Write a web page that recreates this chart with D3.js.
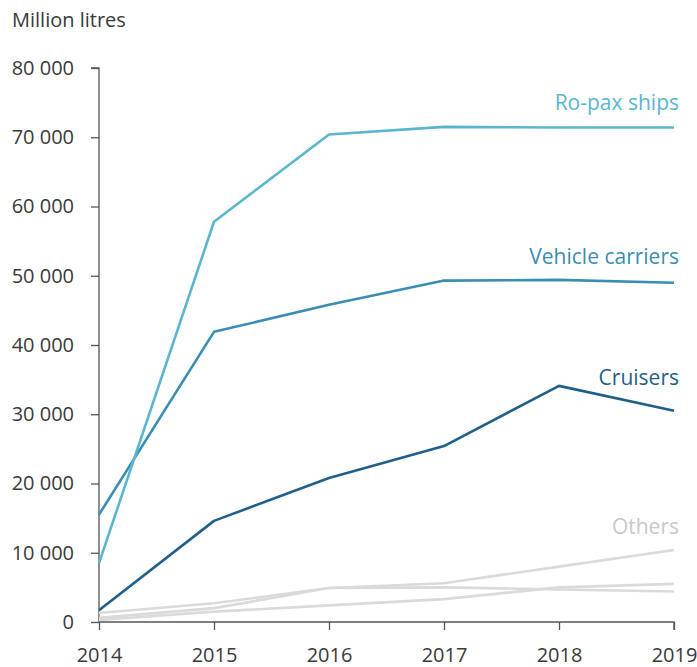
<!DOCTYPE html>
<html>
<head>
<meta charset="utf-8">
<script src="https://cdn.jsdelivr.net/npm/d3@7"></script>
<style>
  html, body { margin: 0; padding: 0; background: #fff; }
  svg { display: block; font-family: "Open Sans", sans-serif; }
</style>
</head>
<body>
<svg id="chart" width="697" height="667"></svg>
<script>
// Fuel consumption by ship type, million litres
const years = [2014, 2015, 2016, 2017, 2018, 2019];
const roPax = [8500, 57800, 70400, 71500, 71400, 71400];
const vehicleCarriers = [15500, 41900, 45800, 49300, 49400, 49000];
const cruisers = [1700, 14600, 20800, 25400, 34100, 30500];
const othersA = [1300, 2700, 4900, 5600, 8000, 10400];
const othersB = [600, 2000, 4900, 5000, 4700, 4400];
const othersC = [300, 1500, 2400, 3300, 5000, 5500];
const yTicks = [0, 10000, 20000, 30000, 40000, 50000, 60000, 70000, 80000];

const series = [
  { name: "Others", values: othersA, color: "#dadada", label: true },
  { name: "Others", values: othersB, color: "#dadada", label: false },
  { name: "Others", values: othersC, color: "#dadada", label: false },
  { name: "Cruisers", values: cruisers, color: "#1f5f8a", label: true },
  { name: "Vehicle carriers", values: vehicleCarriers, color: "#3a8db4", label: true },
  { name: "Ro-pax ships", values: roPax, color: "#5ab6d0", label: true }
];
const labelColors = { "Others": "#c9c9c9", "Cruisers": "#1f5f8a", "Vehicle carriers": "#3a8db4", "Ro-pax ships": "#5ab6d0" };
// baseline offset of each label above its line's last point
const labelYOffset = { "Others": -16, "Cruisers": -26, "Vehicle carriers": -19, "Ro-pax ships": -18 };

const svg = d3.select("#chart");
const margin = { top: 68, right: 23, bottom: 45, left: 99 };
const W = 697, H = 667;

const x = d3.scalePoint().domain(years).range([margin.left, W - margin.right]);
const y = d3.scaleLinear().domain([0, 80000]).range([H - margin.bottom, margin.top]);

const fmtThousands = v => d3.format(",")(v).replace(/,/g, " ");

// Y axis
const yAxis = svg.append("g")
  .attr("transform", `translate(${margin.left},0)`)
  .call(d3.axisLeft(y).tickValues(yTicks).tickSize(8).tickPadding(17).tickFormat(fmtThousands));
yAxis.select(".domain").attr("stroke", "#555").attr("stroke-width", 1.3).attr("d", `M-8,${y(80000)}H0V${y(0)}`);
yAxis.selectAll(".tick line").attr("stroke", "#555").attr("stroke-width", 1.3);
yAxis.selectAll(".tick text").attr("fill", "#3a3a3a").style("font-size", "20px").style("font-family", "'Open Sans', sans-serif");

// X axis
const xAxis = svg.append("g")
  .attr("transform", `translate(0,${y(0)})`)
  .call(d3.axisBottom(x).tickSize(8).tickPadding(18).tickFormat(d3.format("d")));
xAxis.select(".domain").attr("stroke", "#555").attr("stroke-width", 1.3).attr("d", `M${margin.left},0H${W - margin.right}V8`);
xAxis.selectAll(".tick line").attr("stroke", "#555").attr("stroke-width", 1.3);
xAxis.selectAll(".tick text").attr("fill", "#3a3a3a").style("font-size", "20px").style("font-family", "'Open Sans', sans-serif");

// Unit title
svg.append("text")
  .attr("x", 12).attr("y", 27)
  .attr("fill", "#3a3a3a")
  .style("font-size", "20px")
  .text("Million litres");

// Lines
const line = d3.line()
  .x((d, i) => x(years[i]))
  .y(d => y(d));

svg.append("g").selectAll("path")
  .data(series)
  .join("path")
  .attr("d", d => line(d.values))
  .attr("fill", "none")
  .attr("stroke", d => d.color)
  .attr("stroke-width", 2.6)
  .attr("stroke-linejoin", "round");

// Series labels at the right end
svg.append("g").selectAll("text")
  .data(series.filter(s => s.label))
  .join("text")
  .attr("x", 679)
  .attr("y", d => y(d.values[d.values.length - 1]) + labelYOffset[d.name])
  .attr("text-anchor", "end")
  .attr("fill", d => labelColors[d.name])
  .style("font-size", "21px")
  .text(d => d.name);
</script>
</body>
</html>
